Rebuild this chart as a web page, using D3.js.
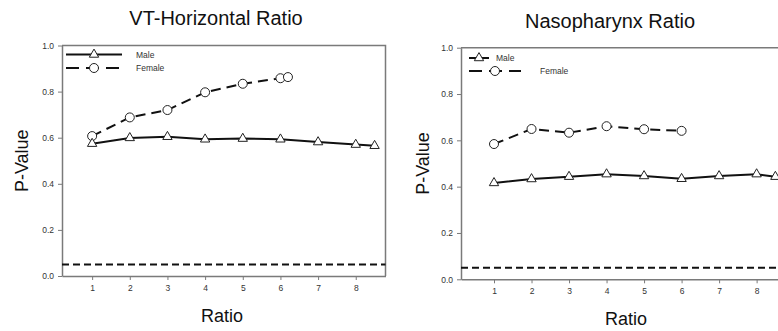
<!DOCTYPE html>
<html>
<head>
<meta charset="utf-8">
<script src="https://cdn.jsdelivr.net/npm/d3@7"></script>
<style>
  body { margin: 0; background: #fff; }
  svg { display: block; font-family: "Liberation Sans", Arial, sans-serif; }
</style>
</head>
<body>
<div id="chart"></div>
<script>
// values
const xTicks = [1, 2, 3, 4, 5, 6, 7, 8];
const yTicks = [0, 0.2, 0.4, 0.6, 0.8, 1.0];
const threshold = 0.05;

const vtMaleRatio = [1, 2, 3, 4, 5, 6, 7, 8, 8.5];
const vtMaleP = [0.574, 0.599, 0.604, 0.593, 0.596, 0.593, 0.581, 0.570, 0.565];
const vtFemaleRatio = [1, 2, 3, 4, 5, 6, 6.2];
const vtFemaleP = [0.607, 0.688, 0.720, 0.797, 0.834, 0.858, 0.863];

const nasoMaleRatio = [1, 2, 3, 4, 5, 6, 7, 8, 8.5];
const nasoMaleP = [0.416, 0.433, 0.443, 0.454, 0.446, 0.434, 0.446, 0.454, 0.443];
const nasoFemaleRatio = [1, 2, 3, 4, 5, 6];
const nasoFemaleP = [0.584, 0.649, 0.633, 0.661, 0.648, 0.641];

const zip = (xs, ys) => xs.map((x, i) => ({x, y: ys[i]}));

const width = 778, height = 331;
const svg = d3.select('#chart').append('svg')
  .attr('width', width)
  .attr('height', height);

const axisColor = '#7a7a7a';
const triangle = d3.symbol().type(d3.symbolTriangle).size(38);

function panel(opts) {
  const x = d3.scaleLinear().domain(opts.xDomain).range([opts.left, opts.right]);
  const y = d3.scaleLinear().domain([0, 1]).range([opts.bottom, opts.top]);
  const g = svg.append('g');

  // frame: top and right lines
  g.append('path')
    .attr('d', `M${opts.left},${opts.top}H${opts.right}V${opts.bottom}`)
    .attr('fill', 'none')
    .attr('stroke', axisColor)
    .attr('stroke-width', 1.5);

  const xAxis = g.append('g')
    .attr('transform', `translate(0,${opts.bottom})`)
    .call(d3.axisBottom(x).tickValues(xTicks).tickSize(4).tickPadding(5).tickSizeOuter(0));
  const yAxis = g.append('g')
    .attr('transform', `translate(${opts.left},0)`)
    .call(d3.axisLeft(y).tickValues(yTicks).tickFormat(d3.format('.1f')).tickSize(4).tickPadding(4).tickSizeOuter(0));
  [xAxis, yAxis].forEach(a => {
    a.select('.domain').attr('stroke', axisColor).attr('stroke-width', 1.5);
    a.selectAll('.tick line').attr('stroke', axisColor);
    a.selectAll('.tick text').attr('fill', '#333').style('font-size', '8.5px');
  });

  // p = 0.05 reference line
  g.append('line')
    .attr('x1', opts.left).attr('x2', opts.right)
    .attr('y1', y(threshold)).attr('y2', y(threshold))
    .attr('stroke', '#111')
    .attr('stroke-width', 2)
    .attr('stroke-dasharray', '7,4');

  const line = d3.line().x(d => x(d.x)).y(d => y(d.y));
  const male = zip(opts.maleX, opts.maleY);
  const female = zip(opts.femaleX, opts.femaleY);

  g.append('path').datum(female)
    .attr('d', line).attr('fill', 'none')
    .attr('stroke', '#111').attr('stroke-width', 2)
    .attr('stroke-dasharray', '10,6');
  g.append('path').datum(male)
    .attr('d', line).attr('fill', 'none')
    .attr('stroke', '#111').attr('stroke-width', 2);

  g.selectAll('circle.f').data(female).join('circle')
    .attr('class', 'f')
    .attr('cx', d => x(d.x)).attr('cy', d => y(d.y)).attr('r', 4.5)
    .attr('fill', '#fff').attr('stroke', '#222').attr('stroke-width', 1);
  g.selectAll('path.m').data(male).join('path')
    .attr('class', 'm')
    .attr('d', triangle)
    .attr('transform', d => `translate(${x(d.x)},${y(d.y)})`)
    .attr('fill', '#fff').attr('stroke', '#222').attr('stroke-width', 1);

  // legend
  const L = opts.legend;
  g.append('line')
    .attr('x1', L.x0).attr('x2', L.maleX1).attr('y1', L.y0).attr('y2', L.y0)
    .attr('stroke', '#111').attr('stroke-width', 2);
  g.append('path').attr('d', triangle)
    .attr('transform', `translate(${(L.x0 + L.maleX1) / 2},${L.y0})`)
    .attr('fill', '#fff').attr('stroke', '#222');
  g.append('text').attr('x', L.maleText).attr('y', L.y0 + 3)
    .style('font-size', '8.5px').attr('fill', '#333').text('Male');

  g.append('line')
    .attr('x1', L.x0).attr('x2', L.femaleX1).attr('y1', L.y1).attr('y2', L.y1)
    .attr('stroke', '#111').attr('stroke-width', 2)
    .attr('stroke-dasharray', '13,7');
  g.append('circle')
    .attr('cx', (L.x0 + L.femaleX1) / 2).attr('cy', L.y1).attr('r', 4.5)
    .attr('fill', '#fff').attr('stroke', '#222');
  g.append('text').attr('x', L.femaleText).attr('y', L.y1 + 3)
    .style('font-size', '8.5px').attr('fill', '#333').text('Female');

  // titles
  g.append('text')
    .attr('x', opts.titleX).attr('y', opts.titleY)
    .attr('text-anchor', 'middle')
    .style('font-size', '20px').attr('fill', '#111')
    .text(opts.title);
  g.append('text')
    .attr('transform', `translate(${opts.yLabelX},${(opts.top + opts.bottom) / 2}) rotate(-90)`)
    .attr('text-anchor', 'middle')
    .style('font-size', '18px').attr('fill', '#111')
    .text('P-Value');
  g.append('text')
    .attr('x', opts.xLabelX).attr('y', opts.xLabelY)
    .attr('text-anchor', 'middle')
    .style('font-size', '18px').attr('fill', '#111')
    .text('Ratio');
}

panel({
  title: 'VT-Horizontal Ratio',
  left: 62, right: 385.5, top: 45.5, bottom: 276,
  xDomain: [0.2, 8.79],
  maleX: vtMaleRatio, maleY: vtMaleP,
  femaleX: vtFemaleRatio, femaleY: vtFemaleP,
  legend: {x0: 66, maleX1: 122, femaleX1: 122, y0: 54.5, y1: 68, maleText: 136, femaleText: 136},
  titleX: 216, titleY: 25,
  yLabelX: 28, xLabelX: 222, xLabelY: 322
});

panel({
  title: 'Nasopharynx Ratio',
  left: 461, right: 790, top: 47.7, bottom: 279.3,
  xDomain: [0.12, 8.89],
  maleX: nasoMaleRatio, maleY: nasoMaleP,
  femaleX: nasoFemaleRatio, femaleY: nasoFemaleP,
  legend: {x0: 469, maleX1: 489, femaleX1: 521, y0: 58, y1: 71, maleText: 496, femaleText: 540},
  titleX: 610, titleY: 28,
  yLabelX: 429, xLabelX: 626, xLabelY: 325
});
</script>
</body>
</html>
